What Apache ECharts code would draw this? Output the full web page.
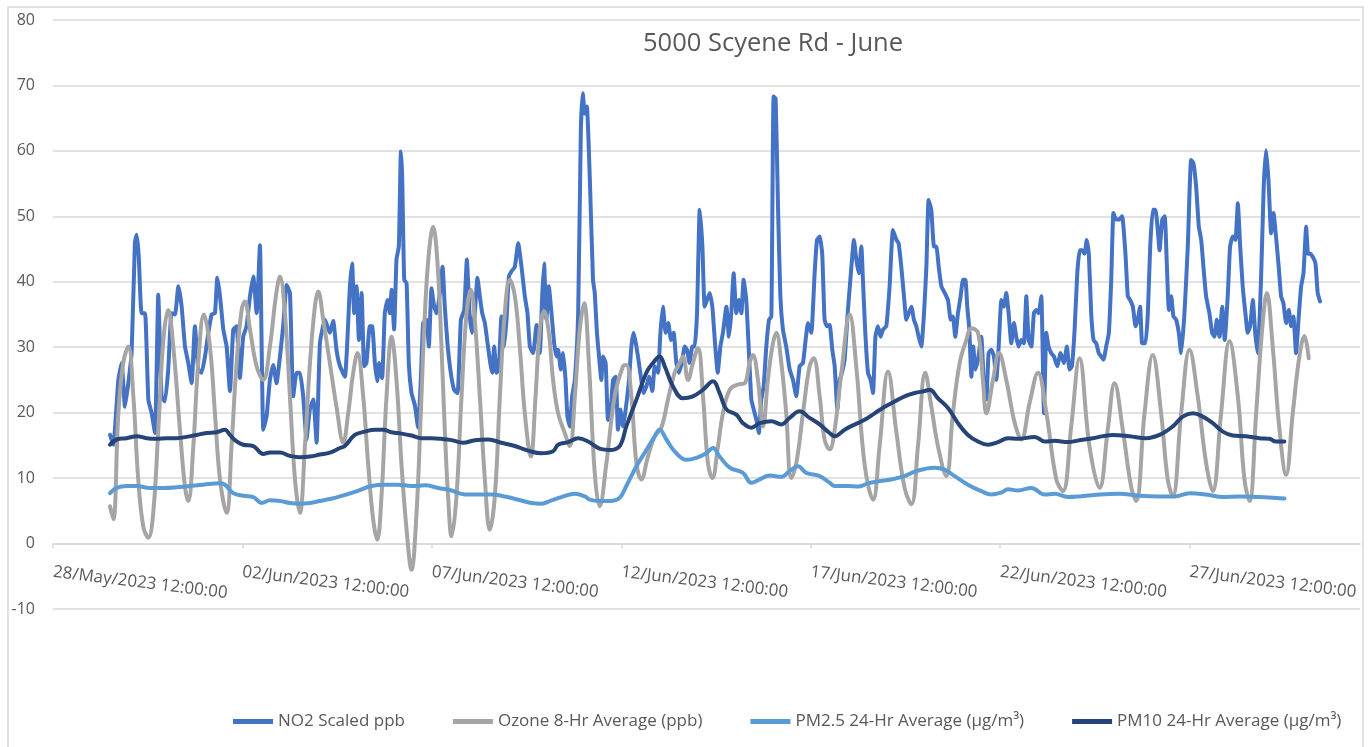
<!DOCTYPE html>
<html>
<head>
<meta charset="utf-8">
<title>5000 Scyene Rd - June</title>
<script src="https://cdn.jsdelivr.net/npm/echarts@6/dist/echarts.min.js"></script>
<style>
    html, body { margin: 0; padding: 0; background: #ffffff; }
    #chart { width: 1368px; height: 747px; }
</style>
</head>
<body>
<div id="chart"></div>
<script>
// x values are hours after 28/May/2023 12:00:00
const xTickHours = [0, 120, 240, 360, 480, 600, 720];
const xTickLabels = ['28/May/2023 12:00:00', '02/Jun/2023 12:00:00', '07/Jun/2023 12:00:00',
    '12/Jun/2023 12:00:00', '17/Jun/2023 12:00:00', '22/Jun/2023 12:00:00', '27/Jun/2023 12:00:00'];
const seriesNames = ['NO2 Scaled ppb', 'Ozone 8-Hr Average (ppb)', 'PM2.5 24-Hr Average (µg/m³)', 'PM10 24-Hr Average (µg/m³)'];

const no2 = [
    [36.1, 16.6], [38.2, 15.1], [41.4, 25], [43.5, 27.6], [45.6, 20.9], [47.7, 24.5], [49.8, 29.1], [51.9, 46], [53.0, 47.2],
    [54.3, 44], [56.1, 35.2], [58.3, 35.2], [60.4, 22], [62.5, 19.9], [64.6, 16.9], [66.7, 38], [68.8, 22.5], [70.9, 21.7], [73.0, 26.6],
    [75.1, 35.2], [77.3, 35], [79.4, 39.3], [81.5, 36.2], [83.6, 30.1], [85.7, 27.6], [87.8, 24.5], [89.9, 33.2], [92.0, 26.6],
    [94.1, 26.1], [96.3, 28.6], [98.4, 32.2], [100.5, 35], [102.6, 35.2], [104.1, 40.6], [105.8, 37.8], [107.9, 32.7],
    [110.0, 30.1], [112.1, 23.3], [114.2, 32.7], [116.3, 33.2], [118.4, 25.3], [120.5, 31.6], [122.6, 33.2], [124.8, 37.8],
    [126.9, 40.8], [129.0, 35.2], [131.1, 45.6], [133.2, 17.4], [135.3, 19.4], [137.4, 25], [139.5, 27.3], [141.6, 24.5],
    [143.8, 28.6], [145.9, 33.4], [148.0, 39.5], [150.1, 38.3], [152.2, 22.5], [154.3, 26.1], [156.4, 26.1], [158.5, 22.5],
    [160.6, 15.9], [162.7, 20.5], [164.9, 22], [167.0, 15.4], [169.1, 30.6], [172.3, 34.2], [175.4, 32.2], [177.5, 34],
    [179.6, 29.6], [181.8, 27.1], [184.9, 25.5],
    [188.1, 39.3], [189.5, 42.8], [190.8, 35.2], [192.3, 39.3], [193.8, 31.1], [195.5, 38.3], [197.1, 27.1], [198.6, 27.6],
    [200.7, 33.2], [202.2, 33.2], [203.9, 27.6], [205.4, 24.8], [206.6, 27.6], [208.5, 25.3], [210.2, 35.2], [211.9, 37.2],
    [213.4, 35.2], [214.5, 38.8], [216.1, 32.7], [217.6, 43.4], [219.1, 45.4], [220.4, 59.9], [221.2, 56.1], [222.5, 40.3],
    [224.0, 39.8], [225.4, 27.6], [227.1, 23], [229.2, 21.2], [231.3, 17.7], [233.0, 25], [234.5, 33.7], [236.6, 34.2],
    [238.1, 30.1], [239.8, 39], [241.5, 36.2], [243.0, 35.2], [245.1, 38.3], [246.8, 42.3], [248.2, 36.2], [249.9, 30.6],
    [252.0, 26.1], [254.1, 23.5], [256.3, 23], [258.4, 34.2], [260.5, 35.7], [262.2, 43.4], [263.9, 35.2], [265.5, 32.2],
    [267.2, 35.2], [268.9, 40.6], [270.4, 37.8], [271.9, 35.2], [273.6, 33.7], [275.3, 30.6], [277.0, 27.6], [278.2, 26.1],
    [279.5, 30.1], [281.0, 26.1], [282.4, 26.6], [284.1, 34.7], [285.8, 30.1], [287.3, 34.2], [288.8, 40.8], [290.5, 41.6],
    [292.6, 42.3], [294.7, 45.9], [296.8, 42.3], [298.9, 37.8], [300.6, 35.2], [302.1, 30.1], [304.2, 29.1], [306.3, 33.4],
    [308.4, 29.1], [309.9, 37.8], [311.1, 42.8], [312.6, 34.2], [314.1, 39.3], [315.8, 35.2], [317.5, 30.6], [318.9, 28.6],
    [320.0, 29.6], [321.7, 26.6], [323.2, 29.1], [324.7, 25], [325.9, 19.4], [327.4, 17.9], [328.9, 22.5], [330.6, 25],
    [332.7, 35.2], [334.4, 63.2], [335.6, 68.8], [336.9, 65.7], [338.2, 66.8], [340.1, 55.6],
    [342.1, 40.3], [343.2, 38.3], [344.6, 32.2], [345.9, 28.6], [347.4, 25], [348.4, 28.6], [350.1, 27.6], [351.6, 18.9],
    [353.1, 19.9], [354.8, 25], [356.5, 25.5], [357.9, 17.4], [359.4, 20.5], [361.1, 17.9], [362.8, 20.5], [364.9, 25],
    [366.4, 30.1], [367.9, 32.2], [369.6, 30.1], [371.2, 27.6], [372.7, 25], [374.2, 23], [375.9, 24], [377.6, 25.5],
    [379.7, 23.3], [381.2, 27.1], [383.3, 26.1], [384.8, 32.2], [386.4, 36.2], [388.1, 32.2], [389.8, 33.7], [391.5, 31.1],
    [393.2, 32.2], [394.9, 27.6], [396.6, 26.1], [398.3, 27.6], [400.2, 30.1], [401.6, 29.6], [403.3, 27.6], [405.0, 30.1],
    [406.5, 30.1], [408.0, 35.2], [409.7, 51], [411.4, 45.4], [412.8, 36.2], [414.3, 37.2], [416.0, 38.3], [417.7, 36.2],
    [419.4, 30.6], [421.1, 26.1], [422.8, 30.1], [424.4, 32.2], [426.6, 36.2], [428.2, 31.6], [429.7, 35.2], [431.2, 41.3],
    [432.9, 35.2], [434.6, 37.2], [436.1, 35.2], [437.5, 40.3], [439.2, 37.2], [440.9, 29.1], [442.4, 22], [443.9, 20.5],
    [445.6, 18.9], [447.2, 16.9], [448.7, 22], [450.2, 24], [451.9, 30.1], [453.6, 34.2], [455.1, 34.7], [456.5, 68.3],
    [457.8, 68], [459.3, 51.5], [460.8, 37.8], [462.4, 32.7], [464.5, 30.1], [466.7, 26.6], [468.8, 25], [470.9, 22.5],
    [473.0, 27.1], [475.1, 27.6], [476.8, 31.1], [478.3, 33.7], [480.4, 32.2], [482.5, 41.3], [484.0, 46.4], [485.7, 46.9],
    [487.3, 44.3], [488.8, 34.2], [490.3, 33.2], [492.0, 33.4], [493.7, 29.6], [495.2, 27.1],
    [496.9, 20.5], [498.4, 25], [499.8, 26.1], [501.5, 28.1], [503.6, 35.7], [505.8, 42.3], [507.4, 46.4], [508.9, 43.4],
    [510.4, 41.3], [512.1, 45.4], [513.1, 40.3], [514.6, 32.2], [516.3, 26.1], [518.0, 25], [519.5, 23], [521.0, 31.6],
    [522.6, 33.2], [524.3, 31.6], [525.8, 32.7], [527.9, 33.2], [530.0, 39.3], [532.1, 47.9], [534.3, 46.4], [535.7, 45.9],
    [537.4, 42.3], [539.1, 37.8], [540.6, 34.2], [542.1, 35.2], [543.8, 36.2], [545.4, 34.2], [546.9, 33.2], [548.4, 31.6],
    [550.1, 30.1], [551.8, 35.2], [553.3, 42.3], [554.7, 52.5], [556.4, 51], [558.1, 45.4], [559.6, 45.4], [561.1, 42.3],
    [562.8, 39.3], [564.9, 38.3], [567.0, 37.2], [568.7, 34.2], [570.1, 34.7], [571.6, 31.6], [573.3, 35.2], [575.0, 37.8],
    [576.5, 40.3], [578.0, 40.3], [579.2, 36.2], [580.5, 32.7], [581.8, 25.5], [583.0, 30.1], [584.3, 26.6], [586.0, 28.1],
    [588.1, 31.6], [589.8, 24], [591.3, 22], [592.7, 29.1], [594.4, 29.6], [596.1, 28.6], [597.6, 25], [599.1, 30.1],
    [600.8, 37.2], [602.4, 36.2], [603.9, 38.3], [605.4, 35.2], [607.1, 30.6], [608.8, 33.7], [610.2, 31.6], [611.7, 30.1],
    [613.4, 31.1], [615.1, 30.6], [616.6, 37.8], [618.1, 31.1], [619.8, 30.1], [621.4, 35.2], [622.9, 35.7], [624.4, 35.2],
    [626.1, 37.8], [627.8, 19.9], [629.3, 32.2], [630.7, 30.1], [632.4, 29.1], [634.1, 28.6], [636.2, 27.1], [638.3, 29.1],
    [640.4, 27.6], [642.3, 30.1], [644.0, 26.6], [645.5, 27.1], [647.2, 32.7], [648.9, 41.3], [650.4, 44.8],
    [652.0, 44.8], [653.5, 44.3], [654.9, 46.4], [656.2, 44.3], [657.7, 35.2], [659.2, 31.1], [660.9, 30.6], [662.5, 29.1],
    [664.0, 28.6], [665.5, 28.1], [667.2, 30.1], [668.9, 32.2], [670.4, 40.3], [671.8, 50.5], [673.5, 49.5], [675.2, 49.5],
    [677.3, 50], [679.4, 44.3], [680.9, 37.8], [682.4, 37.2], [684.1, 36.2], [685.8, 33.2], [687.2, 34.2], [688.7, 36.2],
    [690.0, 30.6], [692.1, 30.6], [693.6, 35.2], [695.1, 45.4], [696.7, 51], [698.4, 51], [699.9, 47.9], [701.0, 44.8],
    [702.7, 49.5], [704.3, 50], [705.6, 42.8], [706.9, 35.7], [708.4, 37.8], [709.8, 34.7], [711.5, 34.2], [713.2, 32.2],
    [714.7, 29.1], [716.8, 35.2], [718.9, 45.4], [721.0, 58.6], [722.5, 58.1], [724.2, 54.5], [725.9, 48.4], [727.4, 46.4],
    [728.8, 42.3], [730.5, 37.8], [732.6, 35.2], [734.3, 32.2], [735.8, 31.6], [737.3, 34.2], [739.0, 31.6], [740.7, 36.2],
    [742.3, 31.1], [744.2, 37.8], [745.7, 45.4], [747.4, 46.9], [749.1, 46.4], [750.6, 52], [752.1, 45.4], [753.7, 39.3],
    [755.4, 35.2], [756.9, 32.2], [758.4, 33.2], [760.1, 37.2], [761.6, 32.2], [763.2, 29.1], [765.3, 40.3], [767.0, 54.5],
    [768.5, 60.1], [770.0, 55.6], [771.7, 47.4], [773.2, 50.5], [774.8, 46.9], [776.5, 42.3], [778.0, 37.8], [779.5, 36.7],
    [781.2, 33.7], [782.9, 35.7], [784.4, 33.2], [785.8, 34.7], [787.5, 29.1], [789.2, 34.7], [790.7, 39.3], [792.2, 41.3],
    [793.9, 48.4], [795.1, 44.3], [796.4, 44.3], [798.1, 43.8], [799.8, 42.8], [801.2, 38.3], [802.7, 37]
];

const ozone = [
    [36.1, 5.7], [38.2, 3.7], [41.4, 19.9], [44.5, 27.6], [47.7, 30.1], [50.9, 22.5], [54.0, 9.8], [57.2, 2.6], [60.4, 0.9],
    [63.5, 4.7], [66.7, 17.4], [69.9, 31.1], [73.0, 35.7], [76.2, 30.1], [80.4, 17.4], [83.6, 8.7], [85.7, 6.5], [88.9, 14.9],
    [92.0, 27.6], [95.6, 35], [99.4, 30.1], [102.6, 19.9], [105.8, 9.8], [110.0, 4.7], [113.1, 14.9], [116.3, 27.6],
    [119.5, 35.7], [121.6, 37], [124.8, 32.7], [129.0, 27.1], [133.2, 25], [137.4, 30.1], [141.2, 37.8], [143.8, 40.8],
    [146.9, 35.2], [150.1, 22.5], [153.3, 9.8], [156.4, 4.7], [159.6, 14.9], [162.8, 27.6], [165.9, 36.2], [168.0, 38.5],
    [171.2, 34.2], [175.4, 27.6], [179.6, 20.9], [183.9, 15.4], [187.0, 19.9], [190.2, 26.1], [192.9, 29.1], [196.5, 22.5],
    [199.7, 12], [202.8, 3.7], [205.4, 0.6], [208.1, 7.2], [211.3, 22.5], [214.5, 31.6], [217.6, 25], [220.8, 12],
    [224.0, 2.1], [227.1, -4], [230.3, 4.7], [233.0, 19.9], [235.6, 35.2], [238.1, 44.3], [240.8, 48.4], [243.6, 42.8],
    [246.1, 30.1], [248.2, 17.4], [250.3, 7.2], [252.5, 1.1], [255.6, 7.2], [258.8, 22.5], [262.0, 35.2], [264.7, 38.8],
    [267.2, 34.2], [270.4, 22.5], [273.6, 9.8], [276.7, 2.1], [279.9, 7.2], [283.1, 22.5], [286.2, 35.2], [289.4, 40.3],
    [292.6, 37.8], [295.7, 30.1], [298.9, 19.9], [302.7, 13.3], [305.7, 22.5], [308.4, 32.7], [311.1, 35.5], [314.1, 32.2],
    [316.8, 25], [320.0, 19.9], [324.2, 16.9], [327.4, 14.9], [330.6, 22.5], [333.7, 32.7], [336.5, 36.7], [339.4, 28],
    [343.2, 10.8], [346.3, 5.7], [350.6, 12.3], [355.8, 22.5], [361.1, 27.1], [363.2, 27.3], [366.4, 22.5], [369.6, 12.3],
    [372.7, 9.8], [376.9, 13.3], [381.2, 16.4], [385.4, 17.7], [389.6, 22], [393.8, 26.1], [397.0, 27.6], [399.1, 28.6],
    [402.3, 25], [405.4, 27.6], [408.6, 29.9], [411.8, 22.5], [414.9, 12.3], [417.7, 10], [421.3, 14.9], [424.4, 19.9],
    [428.7, 23.5], [433.9, 24.3], [438.2, 24.5], [441.3, 27.6], [443.4, 28.8], [446.6, 25], [449.8, 17.9], [452.9, 25],
    [455.7, 30.1], [458.2, 32.2], [461.4, 27.6], [464.5, 19.9], [467.7, 10], [470.9, 12.3], [475.1, 19.9], [479.3, 27.1],
    [481.9, 28.3], [485.7, 22.5], [488.8, 15.9], [492.0, 14.4], [495.2, 17.4], [499.4, 26], [504.7, 35], [508.9, 27],
    [514.2, 12], [519.5, 6.7], [523.7, 15], [529.0, 26.3], [534.3, 17], [539.5, 8.5], [543.8, 6], [548.0, 15], [552.6, 26.1],
    [556.4, 21], [560.6, 14.9], [565.9, 10.3], [570.1, 19.9], [574.4, 27.6], [578.6, 31.1], [581.8, 32.9], [586.0, 32.2],
    [589.1, 25], [591.3, 19.9], [595.5, 25], [599.3, 29.1], [603.9, 25], [609.2, 18.5], [613.4, 15.9], [618.7, 21.5],
    [624.0, 26.1], [629.3, 20], [635.6, 9.8], [639.8, 8], [645.1, 18], [650.3, 28.3], [656.6, 14.9], [663.0, 8.5],
    [668.2, 17.4], [672.5, 24.5], [677.7, 17.4], [683.0, 8.7], [686.2, 6.5], [691.5, 19.9], [696.7, 28.8], [702.0, 19.9],
    [706.2, 9.8], [709.4, 7.2], [714.7, 19.9], [720.0, 29.6], [725.2, 22.5], [730.5, 12.3], [734.7, 8], [740.0, 19.9],
    [745.3, 30.9], [750.6, 22.5], [754.8, 9.8], [758.0, 6.5], [762.2, 19.9], [766.0, 32.7], [769.0, 38.3], [772.7, 30.1],
    [777.0, 17.4], [781.2, 10.5], [785.4, 19.9], [789.6, 28.6], [792.8, 31.7], [795.5, 28.3]
];

const pm25 = [
    [36.1, 7.7], [40.3, 8.5], [46.6, 8.8], [53.0, 8.8], [61.4, 8.5], [69.9, 8.5], [78.3, 8.6], [86.8, 8.8], [95.2, 9],
    [105.8, 9.2], [108.9, 9], [114.2, 7.7], [120.5, 7.3], [126.9, 7.1], [132.1, 6.2], [137.4, 6.6], [143.8, 6.5],
    [150.1, 6.2], [156.4, 6.1], [162.8, 6.2], [169.1, 6.5], [175.4, 6.8], [181.8, 7.2], [191.2, 7.9], [201.8, 8.8],
    [210.2, 9], [218.7, 9], [227.1, 8.8], [235.6, 8.9], [244.0, 8.5], [252.5, 8.1], [260.9, 7.5], [269.3, 7.5],
    [277.8, 7.5], [286.2, 7.2], [294.7, 6.7], [303.1, 6.2], [309.4, 6.1], [315.8, 6.6], [322.1, 7.1], [330.6, 7.6],
    [336.9, 7.2], [340.0, 6.7], [346.3, 6.5], [352.7, 6.5], [359.0, 7], [363.2, 8.8], [369.6, 11.8], [375.9, 14.3],
    [381.2, 16.4], [384.3, 17.4], [388.6, 15.9], [393.8, 14.1], [401.2, 12.8], [407.6, 13.1], [413.9, 13.8], [418.1, 14.6],
    [422.3, 13.3], [428.7, 11.6], [437.1, 10.8], [442.4, 9.3], [447.7, 9.8], [454.0, 10.4], [461.4, 10.2], [466.7, 11.1],
    [471.9, 11.8], [477.2, 10.8], [485.7, 10.3], [492.0, 9.3], [495.2, 8.8], [503.6, 8.8], [510.0, 8.7], [516.3, 9.2],
    [522.6, 9.5], [531.1, 9.8], [539.5, 10.3], [545.9, 11], [552.2, 11.4], [558.5, 11.6], [564.9, 11.3], [571.2, 10.3],
    [579.6, 9], [588.1, 8], [594.4, 7.5], [600.8, 7.8], [605.0, 8.3], [611.3, 8.1], [619.8, 8.5], [628.2, 7.5],
    [634.5, 7.6], [643.0, 7.1], [650.3, 7.2], [663.0, 7.5], [675.6, 7.6], [688.3, 7.3], [701.0, 7.2], [710.5, 7.2],
    [720.0, 7.7], [730.5, 7.5], [741.1, 7.1], [751.6, 7.2], [764.3, 7.1], [772.7, 7], [780.1, 6.9]
];

const pm10 = [
    [36.1, 15.1], [40.3, 15.9], [46.6, 16.1], [53.0, 16.4], [59.3, 16.1], [65.6, 16], [72.0, 16.1], [78.3, 16.1],
    [84.6, 16.3], [91.0, 16.6], [97.3, 16.9], [103.6, 17], [108.9, 17.4], [112.1, 16.6], [116.3, 15.6], [120.5, 15.1],
    [126.9, 14.9], [133.2, 13.7], [137.4, 13.9], [143.8, 13.9], [150.1, 13.4], [156.4, 13.2], [162.8, 13.3], [169.1, 13.6],
    [175.4, 13.9], [181.8, 14.6], [184.9, 14.9], [191.2, 16.6], [197.6, 17.1], [203.9, 17.4], [209.2, 17.4], [214.5, 17],
    [220.8, 16.8], [227.1, 16.5], [233.5, 16.1], [239.8, 16.1], [246.1, 16], [252.5, 15.8], [259.8, 15.4], [267.2, 15.8],
    [275.7, 15.9], [284.1, 15.4], [292.6, 14.9], [301.0, 14.2], [309.4, 13.8], [316.8, 14.1], [320.0, 15.1], [326.3, 15.5],
    [332.7, 16.1], [339.0, 15.6], [346.3, 14.5], [352.7, 14.3], [359.0, 14.9], [363.2, 17.9], [369.6, 22], [375.9, 26.1],
    [380.1, 27.6], [384.3, 28.6], [387.5, 27.1], [392.8, 24], [399.1, 22.2], [405.4, 22.5], [411.8, 23.5], [418.1, 24.8],
    [422.3, 23], [426.6, 20.5], [432.9, 19.7], [437.1, 18.4], [442.4, 17.7], [447.7, 18.4], [455.1, 18.7], [461.4, 18.2],
    [466.7, 19.2], [473.0, 20.2], [479.3, 19.2], [485.7, 18.2], [492.0, 16.9], [495.2, 16.4], [501.5, 17.4], [507.9, 18.2],
    [514.2, 18.9], [520.5, 19.9], [526.9, 20.9], [533.2, 21.7], [539.5, 22.5], [545.9, 23], [552.2, 23.3], [555.4, 23.5],
    [560.6, 22.2], [567.0, 20.7], [573.3, 18.4], [579.6, 16.6], [586.0, 15.6], [592.3, 15.1], [598.6, 15.5], [605.0, 16.1],
    [611.3, 16], [621.9, 16.3], [628.2, 15.6], [634.5, 15.7], [643.0, 15.5], [650.3, 15.8], [658.7, 16.1], [671.4, 16.6],
    [682.0, 16.4], [692.5, 16.1], [701.0, 16.6], [709.4, 17.9], [715.7, 19.4], [722.1, 19.9], [728.4, 19.4], [734.7, 18.4],
    [741.1, 17.1], [747.4, 16.5], [755.9, 16.4], [764.3, 16.1], [770.6, 16], [774.8, 15.6], [780.1, 15.6]
];

const chart = echarts.init(document.getElementById('chart'));

function lineSeries (name, data, color, smooth) {
    return {
        name: name,
        type: 'line',
        data: data,
        showSymbol: false,
        smooth: smooth,
        lineStyle: { color: color, width: 4, cap: 'round', join: 'round' },
        itemStyle: { color: color },
        emphasis: { disabled: true }
    };
}

const option = {
    animation: false,
    textStyle: { fontFamily: 'Open Sans' },
    title: {
        text: '5000 Scyene Rd - June',
        left: 638,
        top: 26,
        textStyle: { fontFamily: 'Open Sans', fontSize: 25.5, fontWeight: 'normal', color: '#595959' }
    },
    legend: {
        left: 228,
        top: 708,
        icon: 'rect',
        itemWidth: 40,
        itemHeight: 5,
        itemGap: 48,
        textStyle: { fontFamily: 'Open Sans', fontSize: 17, color: '#595959' },
        data: seriesNames
    },
    grid: { left: 53, right: 8, top: 20, bottom: 138 },
    graphic: [{
        type: 'rect',
        silent: true,
        shape: { x: 8, y: 7, width: 1355, height: 760 },
        style: { fill: 'none', stroke: '#d9d9d9', lineWidth: 1.5 }
    }],
    xAxis: {
        type: 'value',
        min: 0,
        max: 828,
        axisLine: { onZero: true, lineStyle: { color: '#d9d9d9', width: 1.5 } },
        axisTick: { show: true, length: 5, customValues: xTickHours, lineStyle: { color: '#d9d9d9', width: 1.5 } },
        splitLine: { show: false },
        axisLabel: {
            customValues: xTickHours,
            rotate: -7,
            margin: -37,
            fontSize: 17,
            color: '#595959',
            fontFamily: 'Open Sans',
            formatter: function (v) {
                const i = xTickHours.indexOf(v);
                return i >= 0 ? xTickLabels[i] : '';
            }
        }
    },
    yAxis: {
        type: 'value',
        min: -10,
        max: 80,
        interval: 10,
        axisLine: { show: false, onZero: false },
        axisTick: { show: false },
        splitLine: { lineStyle: { color: '#d9d9d9', width: 1.5 } },
        axisLabel: { fontSize: 16, color: '#595959', margin: 18, fontFamily: 'Open Sans' }
    },
    series: [
        lineSeries(seriesNames[0], no2, '#4472C4', 0.15),
        lineSeries(seriesNames[1], ozone, '#A5A5A5', 0.4),
        lineSeries(seriesNames[2], pm25, '#5B9BD5', 0.4),
        lineSeries(seriesNames[3], pm10, '#264478', 0.4)
    ]
};

chart.setOption(option);
</script>
</body>
</html>
